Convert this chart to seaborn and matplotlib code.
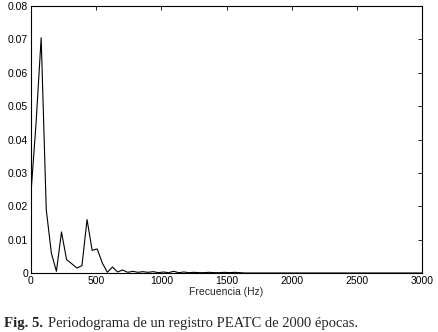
import numpy as np
import pandas as pd
import matplotlib
matplotlib.use("Agg")
import matplotlib.pyplot as plt
import seaborn as sns

freq_hz = [0, 39, 78, 117, 156, 195, 234, 273, 312, 352, 391, 430, 469, 508, 547,
           586, 625, 664, 703, 742, 781, 820, 859, 898, 938, 977, 1016, 1055, 1094,
           1133, 1172, 1211, 1250, 1289, 1328, 1367, 1406, 1445, 1484, 1523, 1563,
           1602, 1641, 3000]
power = [0.024, 0.045, 0.0705, 0.019, 0.006, 0.0005, 0.0123, 0.004, 0.0028, 0.0015,
         0.0022, 0.016, 0.0068, 0.0072, 0.003, 0.0002, 0.0018, 0.0003, 0.0009, 0.0002,
         0.0005, 0.0002, 0.0004, 0.0002, 0.0004, 0.0001, 0.0003, 0.0001, 0.0005, 0.0001,
         0.0003, 0.0001, 0.0002, 0.0001, 0.0001, 0.0002, 0.0001, 0.0001, 0.0002, 0.0001,
         0.0002, 0.0001, 0.0, 0.0]
x_ticks = [0, 500, 1000, 1500, 2000, 2500, 3000]
y_ticks = [0, 0.01, 0.02, 0.03, 0.04, 0.05, 0.06, 0.07, 0.08]
y_labels = ["0", "0.01", "0.02", "0.03", "0.04", "0.05", "0.06", "0.07", "0.08"]
xlabel = "Frecuencia (Hz)"
caption_bold = "Fig. 5."
caption_rest = "Periodograma de un registro PEATC de 2000 épocas."

sns.set_style("white")
plt.rcParams['font.family'] = ['Liberation Sans', 'DejaVu Sans']

df = pd.DataFrame({"f": freq_hz, "p": power})

fig = plt.figure(figsize=(4.38, 3.32), dpi=100)
ax = fig.add_axes([31/438, 1-273/332, (422-31)/438, (273-6)/332])
sns.lineplot(data=df, x="f", y="p", ax=ax, color="black", linewidth=0.8,
             estimator=None, sort=False)
ax.set_xlim(0, 3000)
ax.set_ylim(0, 0.08)
ax.set_xticks(x_ticks)
ax.set_xticklabels([str(t) for t in x_ticks])
ax.set_yticks(y_ticks)
ax.set_yticklabels(y_labels)
ax.tick_params(direction="in", length=3, width=0.6, labelsize=7.5, pad=2,
               top=True, right=True, colors="black")
ax.set_xlabel(xlabel, fontsize=7.5, labelpad=1)
ax.set_ylabel("")
for s in ax.spines.values():
    s.set_color("black")
    s.set_linewidth(0.8)
    s.set_visible(True)

fig.text(4/438, 1-323/332, caption_bold, fontsize=10.7, fontweight="bold",
         family=["Liberation Serif", "DejaVu Serif"], va="center", ha="left")
fig.text(48/438, 1-323/332, caption_rest, fontsize=10.5,
         family=["Liberation Serif", "DejaVu Serif"], va="center", ha="left")

fig.savefig("out.png", dpi=100)
